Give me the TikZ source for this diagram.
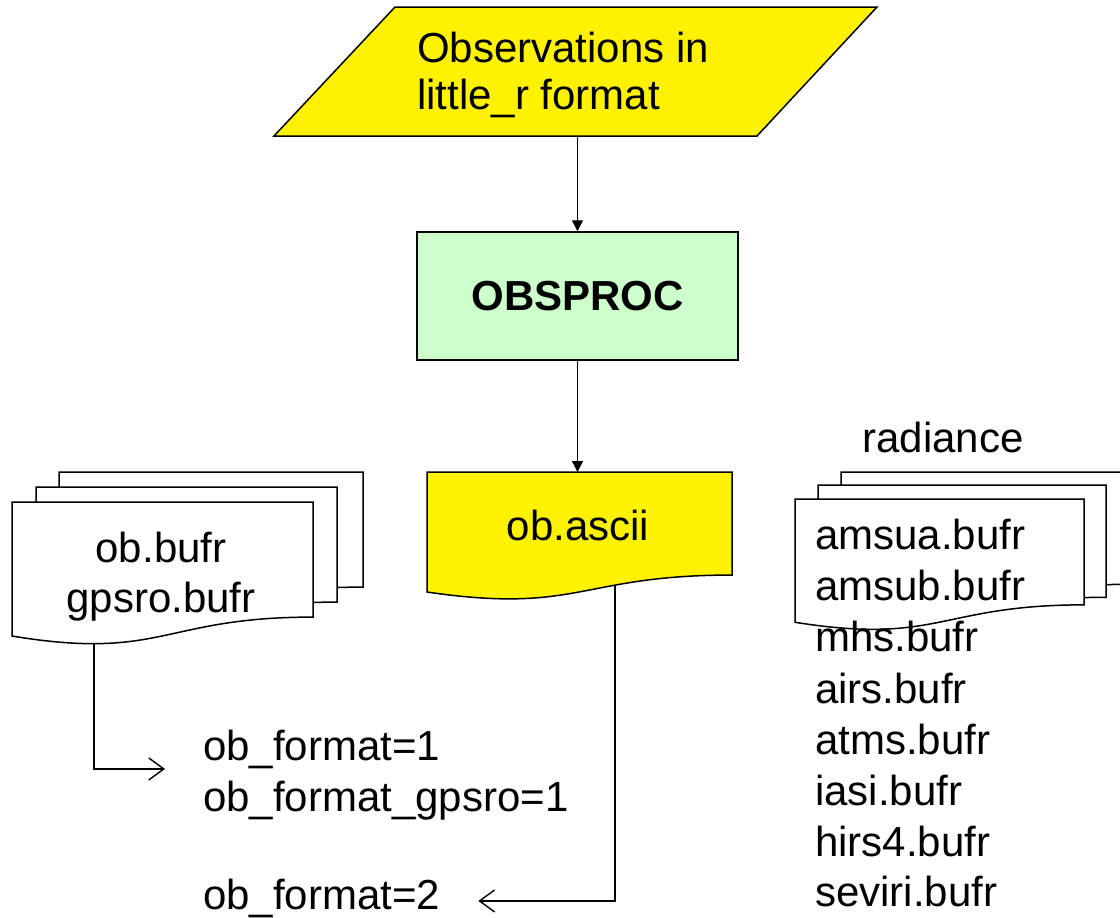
\documentclass[tikz,border=0pt]{standalone}
\usepackage{fontspec}
\setmainfont{Liberation Sans}
\usetikzlibrary{arrows.meta}
\definecolor{procgreen}{HTML}{CCFFCC}
\tikzset{
  shapeline/.style={line width=1.5pt, draw=black, line join=miter},
  txt/.style={font=\fontsize{42}{51}\selectfont, inner sep=0pt},
  farrow/.style={line width=1.4pt, -{Triangle[length=11pt,width=11pt]}},
  barrow/.style={line width=1.4pt, -{Straight Barb[length=15pt,width=22pt,line width=1.4pt]}},
  marker/.style={inner sep=0pt, draw=none, fill=none, anchor=north west}
}
\newcommand\flowdoc[6]{%
  \draw[shapeline, fill=#6] (#2,#3) -- ({#2+#4},#3) -- ({#2+#4},{#3+0.802*#5})
    .. controls ({#2+0.5*#4},{#3+0.802*#5}) and ({#2+0.5*#4},{#3+1.1075*#5}) .. (#2,{#3+0.934*#5}) -- cycle;
  \node[marker, minimum width=#4pt, minimum height=#5pt] (#1) at (#2,#3) {};
}
\begin{document}
\begin{tikzpicture}[x=1pt,y=-1pt]
\useasboundingbox (0,0) rectangle (1120,918);

% input parallelogram
\draw[shapeline, fill=yellow] (395,7) -- (877,7) -- (757,136) -- (274,136) -- cycle;
\node[marker, minimum width=603pt, minimum height=129pt] (obs) at (274,7) {};
\node[txt, anchor=base west] (obs1) at (417,62) {Observations in};
\node[txt, anchor=base west] (obs2) at (417,109) {little\_r format};

% OBSPROC
\node[shapeline, fill=procgreen, minimum width=321pt, minimum height=128pt, inner sep=0pt,
      font=\fontsize{42}{51}\selectfont\bfseries] (proc) at (577.5,296) {OBSPROC};

% ob.ascii
\flowdoc{asc}{427}{472}{305}{128.5}{yellow}
\node[txt, anchor=base] (asctxt) at (578,540) {ob.ascii};

% left stack
\flowdoc{lb3}{59}{472}{304}{143.5}{white}
\flowdoc{lb2}{36}{487}{301}{143.5}{white}
\flowdoc{lb1}{12}{502}{301}{143.5}{white}
\node[txt, anchor=base] (bufr1) at (161,562) {ob.bufr};
\node[txt, anchor=base] (bufr2) at (161,612) {gpsro.bufr};

% right stack
\flowdoc{rb3}{841}{472}{289}{140}{white}
\flowdoc{rb2}{818}{485}{288}{140}{white}
\flowdoc{rb1}{795}{499}{289}{132}{white}
\node[txt, anchor=base] (rad) at (943,452) {radiance};
\node[txt, anchor=base west] (r1) at (815,549) {amsua.bufr};
\node[txt, anchor=base west] (r2) at (815,600) {amsub.bufr};
\node[txt, anchor=base west] (r3) at (815,651) {mhs.bufr};
\node[txt, anchor=base west] (r4) at (815,703) {airs.bufr};
\node[txt, anchor=base west] (r5) at (815,754) {atms.bufr};
\node[txt, anchor=base west] (r6) at (815,805) {iasi.bufr};
\node[txt, anchor=base west] (r7) at (815,856) {hirs4.bufr};
\node[txt, anchor=base west] (r8) at (815,906) {seviri.bufr};

% format labels
\node[txt, anchor=base west] (fmt1) at (203,760) {ob\_format=1};
\node[txt, anchor=base west] (fmt1b) at (203,811) {ob\_format\_gpsro=1};
\node[txt, anchor=base west] (fmt2) at (203,909) {ob\_format=2};

% connectors
\draw[farrow] (obs.south -| proc.north) -- (proc.north);
\draw[farrow] (proc.south) -- (proc.south |- asc.north);
\coordinate (ascout) at (615,585);
\coordinate (lout) at (94,644);
\draw[barrow, shorten >=38pt] (ascout) |- ([yshift=-3pt]fmt2.east);
\draw[barrow, shorten >=38pt] (lout) |- ([yshift=-20pt]fmt1.west);
\end{tikzpicture}
\end{document}
